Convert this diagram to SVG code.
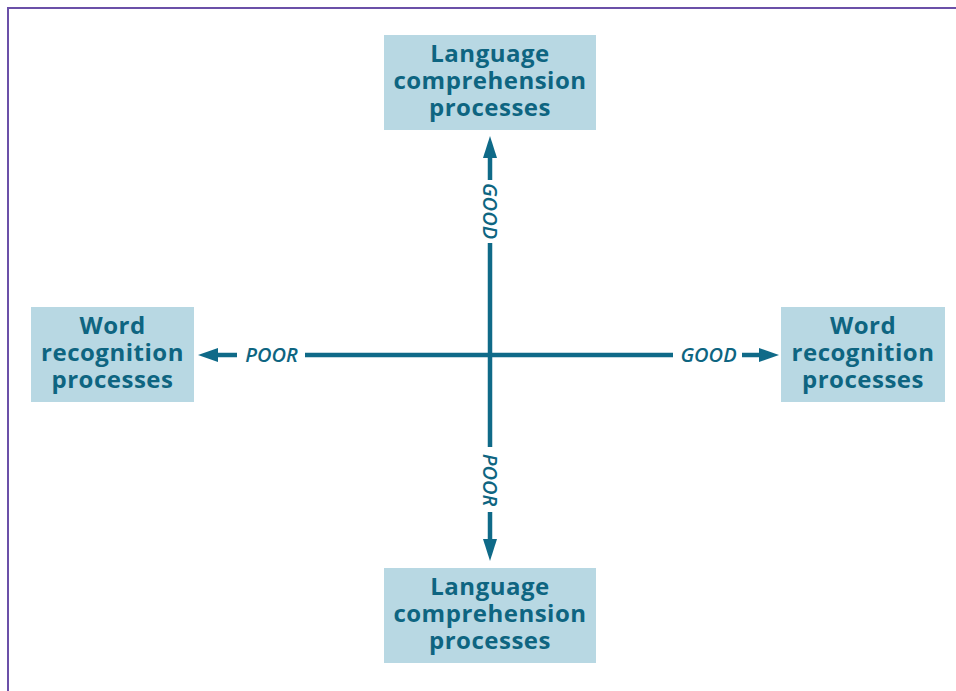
<svg xmlns="http://www.w3.org/2000/svg" width="956" height="691" viewBox="0 0 956 691">
  <defs>
    <style>
      .box { fill: #b8d8e3; }
      .bt { font-family: "Open Sans", "Liberation Sans", sans-serif; font-weight: 700; font-size: 24px; letter-spacing: 0.5px; fill: #0e6581; text-anchor: middle; }
      .lbl { font-family: "Open Sans", "Liberation Sans", sans-serif; font-weight: 600; font-style: italic; font-size: 20px; fill: #0e6581; text-anchor: middle; }
      .ln { stroke: #0f6a88; stroke-width: 4.5; fill: none; }
      .hd { fill: #0f6a88; }
    </style>
  </defs>
  <rect width="956" height="691" fill="#ffffff"/>
  <path d="M8,691 V8 H956" fill="none" stroke="#6b50a8" stroke-width="2"/>

  <g id="connectors">
    <line class="ln" x1="490" y1="155" x2="490" y2="180"/>
    <line class="ln" x1="490" y1="243" x2="490" y2="447"/>
    <line class="ln" x1="490" y1="512" x2="490" y2="543"/>
    <polygon class="hd" points="490,136 483,158 497,158"/>
    <polygon class="hd" points="490,561 483,539 497,539"/>
    <text class="lbl" transform="translate(490,211) rotate(90)" dy="7">GOOD</text>
    <text class="lbl" transform="translate(490,480) rotate(90)" dy="7">POOR</text>

    <line class="ln" x1="214" y1="355" x2="237" y2="355"/>
    <line class="ln" x1="305" y1="355" x2="673" y2="355"/>
    <line class="ln" x1="742" y1="355" x2="762" y2="355"/>
    <polygon class="hd" points="198,355 218,348 218,362"/>
    <polygon class="hd" points="779,355 759,348 759,362"/>
    <text class="lbl" x="271.5" y="362">POOR</text>
    <text class="lbl" x="708.5" y="362">GOOD</text>
  </g>

  <g id="lang-top">
    <rect class="box" x="384" y="35" width="212" height="95"/>
    <text class="bt" x="490" y="62">Language</text>
    <text class="bt" x="490" y="89">comprehension</text>
    <text class="bt" x="490" y="116">processes</text>
  </g>
  <g id="lang-bottom">
    <rect class="box" x="384" y="568" width="212" height="95"/>
    <text class="bt" x="490" y="595">Language</text>
    <text class="bt" x="490" y="622">comprehension</text>
    <text class="bt" x="490" y="649">processes</text>
  </g>
  <g id="word-left">
    <rect class="box" x="31" y="307" width="163" height="95"/>
    <text class="bt" x="112.5" y="334">Word</text>
    <text class="bt" x="112.5" y="361">recognition</text>
    <text class="bt" x="112.5" y="388">processes</text>
  </g>
  <g id="word-right">
    <rect class="box" x="781" y="307" width="164" height="95"/>
    <text class="bt" x="863" y="334">Word</text>
    <text class="bt" x="863" y="361">recognition</text>
    <text class="bt" x="863" y="388">processes</text>
  </g>
</svg>
